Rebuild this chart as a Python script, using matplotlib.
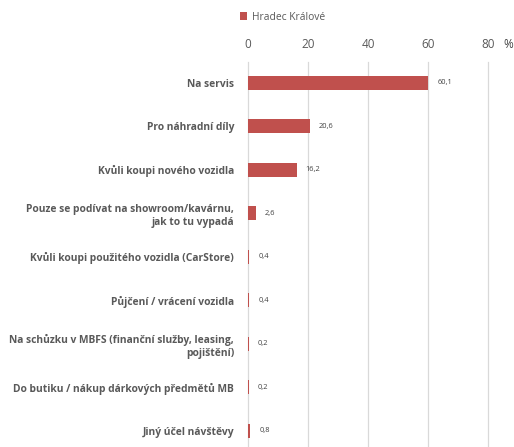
import numpy as np
import matplotlib.pyplot as plt

categories = ["Na servis", "Pro náhradní díly", "Kvůli koupi nového vozidla",
              "Pouze se podívat na showroom/kavárnu,\njak to tu vypadá",
              "Kvůli koupi použitého vozidla (CarStore)",
              "Půjčení / vrácení vozidla",
              "Na schůzku v MBFS (finanční služby, leasing,\npojištění)",
              "Do butiku / nákup dárkových předmětů MB",
              "Jiný účel návštěvy"]
values = [60.1, 20.6, 16.2, 2.6, 0.4, 0.4, 0.2, 0.2, 0.8]
value_labels = ["60,1", "20,6", "16,2", "2,6", "0,4", "0,4", "0,2", "0,2", "0,8"]
xticks = [0, 20, 40, 60, 80]
series_name = "Hradec Králové"

bar_color = "#C0504D"
text_color = "#595959"
plt.rcParams['font.family'] = ['Open Sans', 'DejaVu Sans']

fig = plt.figure(figsize=(5.14, 4.47), dpi=100)
ax = fig.add_axes([248/514, 0, 240/514, 1 - 62/447])

y = np.arange(len(categories))
ax.barh(y, values, height=0.32, color=bar_color, label=series_name, zorder=3)
for yi, v, lab in zip(y, values, value_labels):
    ax.text(v + 3, yi, lab, va='center', ha='left', fontsize=5.4, color='#404040')

ax.set_xlim(0, 80)
ax.set_ylim(8.37, -0.48)
ax.set_yticks(y)
ax.set_yticklabels(categories, fontsize=7.4, fontweight='bold', color=text_color,
                   linespacing=1.25)
ax.set_xticks(xticks)
ax.set_xticklabels([str(t) for t in xticks], fontsize=8.5, color=text_color)
ax.xaxis.tick_top()
ax.tick_params(axis='x', length=0, pad=8)
ax.tick_params(axis='y', length=0, pad=10)
for t in xticks:
    ax.axvline(t, color='#D9D9D9', linewidth=0.9, zorder=0, clip_on=False)
for s in ax.spines.values():
    s.set_visible(False)

fig.text(503/514, 1 - 44/447, "%", fontsize=8.5, color='#404040', va='center', ha='left')
fig.legend(loc='center left', bbox_to_anchor=(231/514, 1 - 17/447), frameon=False,
           fontsize=7.4, handlelength=0.7, handleheight=0.7, handletextpad=0.4,
           labelcolor=text_color)

fig.savefig("out.png", dpi=100)
